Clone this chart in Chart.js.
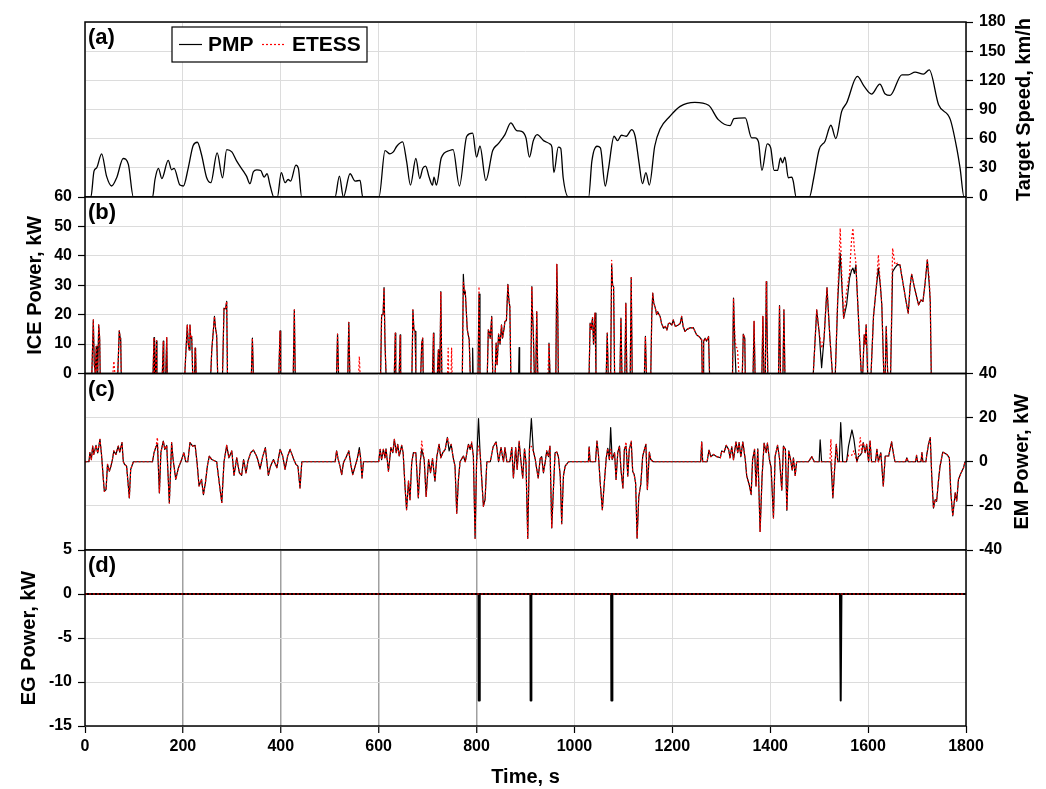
<!DOCTYPE html>
<html>
<head>
<meta charset="utf-8">
<title>PMP vs ETESS</title>
<script src="https://cdn.jsdelivr.net/npm/chart.js@4.4.1/dist/chart.umd.min.js"></script>
<style>
  body { margin: 0; background: #fff; }
  #wrap { position: relative; width: 1046px; height: 789px; }
  #wrap canvas { position: absolute; left: 0; top: 0; }
</style>
</head>
<body>
<div id="wrap">
  <canvas id="speedChart" width="1046" height="789"></canvas>
  <canvas id="iceChart" width="1046" height="789"></canvas>
  <canvas id="emChart" width="1046" height="789"></canvas>
  <canvas id="egChart" width="1046" height="789"></canvas>
</div>
<script>
// axis ranges: [min, max, step]
const timeAxis = [0, 1800, 200];
const speedAxis = [0, 180, 30];
const iceAxis = [0, 60, 10];
const emAxis = [-40, 40, 20];
const egAxis = [-15, 5, 5];

// (a) target speed, km/h
const speedTime = [
  0, 12, 18.4, 23.8, 34, 44, 54.5, 64.7, 78, 88.6,
  98.8, 138, 143, 150, 157, 170, 177, 182, 194, 201,
  211, 221, 229.5, 238, 248.6, 257, 270, 281, 289.5, 300,
  310, 323.5, 330, 337, 344, 351, 359, 366, 372, 378,
  386, 393, 401, 408.8, 415, 420, 431, 436, 442.7, 510.8,
  519.8, 528, 541.5, 552, 562, 567.4, 600.7, 613, 623, 630,
  637, 649, 657, 665, 676, 684, 690, 696, 703, 710,
  713, 718, 728, 745, 752, 765, 780, 792, 800, 807,
  819, 833, 844, 858, 870, 882, 892, 901, 908, 916,
  924, 937, 950, 954, 958, 967, 972, 977, 988, 1029,
  1035.6, 1046, 1053, 1063, 1069, 1081, 1088, 1096, 1106, 1117,
  1124, 1132, 1139, 1146, 1153, 1164, 1175, 1195, 1216, 1246,
  1274, 1294, 1318, 1326, 1349, 1362, 1369, 1376, 1383, 1394,
  1401, 1408, 1415, 1421, 1425, 1430, 1437, 1444, 1447, 1453,
  1480, 1489, 1500, 1512, 1524, 1534, 1546, 1556, 1578, 1592,
  1607, 1624, 1635, 1645, 1669, 1682, 1696, 1713, 1725, 1744,
  1768, 1781, 1788, 1796, 1800
];
const speedKmh = [
  0, 0, 26.6, 30, 44.4, 21.5, 11.3, 19.8, 39.6, 33.5,
  0, 0, 18, 29.4, 19, 37.6, 28, 29.4, 12.3, 11.3,
  30, 53, 56.3, 43.7, 19.8, 14.7, 45.4, 19.8, 48.8, 46.4,
  36.9, 26.6, 21.5, 13.7, 26, 28, 27.3, 20.5, 23.9, 12.3,
  0, 0, 25, 14.7, 18, 16.4, 32.8, 29.4, 0, 0,
  21.5, 0, 23.9, 16.4, 17, 0, 0, 47.8, 44.4, 46.4,
  52.2, 56.7, 36.9, 12.3, 39.6, 19, 29.4, 31.8, 20.5, 12.3,
  20.5, 12.3, 40.3, 47.8, 48.8, 11.3, 62.5, 65.6, 41, 52.2,
  17, 47.8, 54.6, 64.2, 76.2, 68.3, 67.6, 60.8, 41, 58,
  64.2, 58, 54.6, 51.2, 25, 51.2, 50, 19.8, 0, 0,
  36.9, 52.2, 50.5, 11.3, 27.3, 62.5, 58, 63.5, 62.5, 69.3,
  62.5, 35.2, 13.7, 25, 12.3, 52.2, 70, 83, 93.2, 97.3,
  94.3, 79.6, 73.4, 80.6, 81.3, 60.8, 60.8, 56.7, 27.3, 54.6,
  50.5, 27.3, 27.3, 40.3, 35.2, 41, 19.8, 20.5, 16.4, 0,
  0, 19.8, 48.8, 57.4, 73.8, 60.1, 88.1, 96.6, 124, 113.7,
  105.9, 116.1, 105.9, 104.5, 125.7, 125.7, 128.4, 126.4, 130.8, 95,
  79.6, 50.5, 29.4, 0, 0
];

// (b) ICE power, kW
const iceTime = [
  0, 14, 17, 19, 21, 23, 24.5, 26, 28, 30,
  31, 57, 59, 61, 67, 70, 72, 73, 74, 139,
  141, 142, 144, 146, 147, 158, 160, 161, 165, 167,
  168, 204, 206, 209, 211, 213, 214.5, 216, 218, 220,
  224, 225, 226, 227, 257, 259, 264.5, 267, 269, 271,
  281, 284, 287, 289.5, 291, 340, 342, 344, 396, 398.5,
  400, 425.5, 427.7, 429.5, 514, 516, 518, 537, 539, 541,
  559, 560.5, 562, 604, 606, 609, 611, 613, 615, 632,
  634, 635, 642, 644, 645, 668, 670, 672, 674.5, 676,
  686, 688, 690, 691, 710, 712, 713, 720, 722, 723,
  725, 727, 729, 741, 742, 743, 748, 749, 750, 771,
  773, 775, 777, 781, 785, 787, 791, 792, 793, 803,
  805, 807, 822, 824, 826, 828, 831, 833, 838, 840,
  842, 845, 848, 851, 853, 856, 858, 861, 864, 866,
  868, 870, 886, 887, 888, 911, 913, 914, 916, 918,
  921, 923, 925, 946, 948, 950, 962, 964, 966, 967,
  1030, 1032, 1034, 1037, 1039, 1042, 1044, 1065, 1067, 1069,
  1074, 1076, 1078, 1080, 1082, 1093, 1095, 1097, 1103, 1105,
  1107, 1114, 1116, 1118, 1143, 1145, 1147, 1156, 1158, 1160,
  1162, 1165, 1168, 1170, 1175, 1178, 1182, 1186, 1189, 1192,
  1195, 1199, 1202, 1206, 1212, 1216, 1219, 1222, 1226, 1230,
  1236, 1243, 1247, 1250, 1255, 1260, 1261, 1263, 1264, 1267,
  1270, 1274, 1276, 1323, 1325, 1328, 1330, 1333, 1336, 1343,
  1345, 1348, 1349, 1365, 1367, 1369, 1383, 1385, 1387, 1390,
  1392, 1393, 1395, 1417, 1419, 1421, 1426, 1428, 1430, 1488,
  1495, 1500, 1505, 1510, 1516, 1522, 1527, 1533, 1538, 1543,
  1547, 1550, 1556, 1562, 1566, 1569, 1572, 1575, 1580, 1586,
  1589, 1592, 1594, 1596, 1599, 1606, 1611, 1616, 1621, 1625,
  1628, 1632, 1635, 1637, 1640, 1646, 1650, 1655, 1660, 1665,
  1672, 1678, 1682, 1686, 1689, 1695, 1703, 1708, 1712, 1716,
  1721, 1725, 1727, 1729, 1800
];
const icePmp = [
  0, 0, 18.2, 3, 0, 9.2, 0, 0, 16.5, 12,
  0, 0, 0, 0, 0, 14.5, 12, 11, 0, 0,
  12.2, 0, 0, 11.1, 0, 0, 11, 0, 0, 12.2,
  0, 0, 7, 16.5, 10, 8, 16.5, 12, 12.6, 0,
  0, 8.6, 7, 0, 0, 8, 19.4, 15, 13, 0,
  0, 22.2, 22, 24.5, 0, 0, 12, 0, 0, 14.5,
  0, 0, 21.6, 0, 0, 13.4, 0, 0, 17.4, 0,
  0, 0, 0, 0, 19.9, 20, 29.2, 10, 0, 0,
  13.7, 0, 0, 13.1, 0, 0, 21.6, 15, 14.3, 0,
  0, 10.3, 12, 0, 0, 13.7, 0, 0, 8, 0,
  0, 27.8, 0, 0, 0, 0, 0, 0, 0, 0,
  33.7, 27, 27.8, 15, 11.4, 0, 0, 8.6, 0, 0,
  27, 0, 0, 14.8, 14, 12, 19.4, 0, 0, 10.3,
  3, 13.4, 10, 16.5, 12, 15, 17.7, 18, 30.3, 25,
  22.8, 0, 0, 8.8, 0, 0, 29.5, 22, 13.7, 0,
  0, 21, 0, 0, 10.3, 0, 0, 37.1, 20, 0,
  0, 17.1, 15, 19, 10, 20.5, 0, 0, 13.7, 0,
  0, 36.9, 30, 29.5, 0, 0, 18.8, 0, 0, 23.9,
  0, 0, 32.6, 0, 0, 12.6, 0, 0, 20, 27.3,
  24, 22.4, 20, 21, 19.4, 17, 15.4, 16, 14.8, 17,
  17.1, 16.5, 18.2, 16, 16.5, 17, 19.4, 16, 14.3, 15,
  15.5, 15.6, 14, 13.1, 12.5, 11.4, 0, 0, 11, 12,
  11, 12.6, 0, 0, 25.6, 8, 0, 0, 0, 0,
  13.4, 12, 0, 0, 17.7, 0, 0, 19.4, 0, 0,
  31.2, 22, 0, 0, 23.1, 0, 0, 21.6, 0, 0,
  21.6, 14, 2, 12, 29.2, 12, 0, 0, 25, 40.9,
  28, 18.8, 23.3, 32.4, 35, 35.8, 34, 36.9, 20, 0,
  0, 13.1, 10, 16.5, 0, 0, 19.4, 28, 35.8, 30,
  23.3, 0, 0, 16, 0, 0, 34.6, 36, 37, 36.9,
  30, 24, 20.5, 30, 33.7, 29, 23.3, 25, 24.5, 30,
  38.6, 30, 24.5, 0, 0
];
const iceEtess = [
  0, 0, 18.2, 3, 0, 9.2, 0, 0, 16.5, 12,
  0, 0, 4.2, 0, 0, 14.5, 12, 11, 0, 0,
  12.2, 0, 0, 11.1, 0, 0, 11, 0, 0, 12.2,
  0, 0, 7, 16.5, 10, 8, 16.5, 12, 12.6, 0,
  0, 8.6, 7, 0, 0, 8, 19.4, 15, 13, 0,
  0, 22.2, 22, 24.5, 0, 0, 12, 0, 0, 14.5,
  0, 0, 21.6, 0, 0, 13.4, 0, 0, 17.4, 0,
  0, 5.8, 0, 0, 19.9, 20, 29.2, 10, 0, 0,
  13.7, 0, 0, 13.1, 0, 0, 21.6, 15, 14.3, 0,
  0, 10.3, 12, 0, 0, 13.7, 0, 0, 8, 0,
  0, 27.8, 0, 0, 8.6, 0, 0, 8.6, 0, 0,
  31, 29, 27.8, 15, 11.4, 0, 0, 0, 0, 0,
  29.5, 0, 0, 14.8, 14, 12, 19.4, 0, 0, 10.3,
  3, 13.4, 10, 16.5, 12, 15, 17.7, 18, 30.3, 25,
  22.8, 0, 0, 0, 0, 0, 29.5, 22, 13.7, 0,
  0, 21, 0, 0, 10.3, 0, 0, 37.1, 20, 0,
  0, 17.1, 15, 19, 10, 20.5, 0, 0, 13.7, 0,
  0, 38.5, 30, 29.5, 0, 0, 18.8, 0, 0, 23.9,
  0, 0, 32.6, 0, 0, 12.6, 0, 0, 20, 27.3,
  24, 22.4, 20, 21, 19.4, 17, 15.4, 16, 14.8, 17,
  17.1, 16.5, 18.2, 16, 16.5, 17, 19.4, 16, 14.3, 15,
  15.5, 15.6, 14, 13.1, 12.5, 11.4, 0, 0, 11, 12,
  11, 12.6, 0, 0, 25.6, 12, 9, 8.6, 0, 0,
  13.4, 12, 0, 0, 17.7, 0, 0, 19.4, 0, 0,
  31.2, 22, 0, 0, 23.1, 0, 0, 21.6, 0, 0,
  21.6, 14, 8.6, 12, 29.2, 12, 0, 0, 27, 49.4,
  30, 18.8, 28, 34, 45, 49.4, 42, 37.5, 20, 0,
  0, 13.1, 10, 16.5, 0, 0, 19.4, 28, 40.3, 30,
  23.3, 0, 0, 16, 0, 0, 42.6, 37, 37.5, 36.9,
  30, 24, 20.5, 30, 33.7, 29, 23.3, 25, 24.5, 30,
  39, 32, 24.5, 0, 0
];

// (c) EM power, kW
const emTime = [
  0, 8, 10, 13, 15.7, 18, 22.5, 26, 30.6, 34,
  37.5, 39.5, 43, 46, 49.7, 53, 56, 59, 63, 68,
  71, 75.6, 78.3, 81, 85, 90.6, 93.3, 98.8, 138, 141,
  145, 148, 152, 155, 160, 163, 167, 172.3, 177, 180,
  185.5, 191, 197.5, 202, 206, 210, 214.5, 220, 225, 229,
  233, 238, 242, 246, 250, 254, 259, 269, 276, 279.5,
  284, 289.5, 294, 300, 304.5, 310, 315.4, 320, 324, 329,
  333, 338.5, 344, 349, 353, 357.6, 363, 368.5, 374.6, 379,
  385, 392, 398.5, 404, 408.7, 414, 419, 426, 431, 435,
  439.3, 443, 511, 514, 517, 521, 524.5, 528, 533, 539,
  543, 547, 552, 556, 560.5, 563, 566, 569, 600, 603,
  606, 609.6, 613, 615, 620, 625, 629, 632, 636, 639,
  642, 647, 650, 654, 657, 661, 664, 667.5, 671, 676,
  681, 685, 688, 693, 697, 702, 706, 710, 715, 719,
  723.4, 727, 731, 736, 740.4, 744, 748, 753, 756, 759.5,
  763, 766.3, 773, 777, 783.3, 787, 790, 793.5, 797, 800,
  804, 807, 810.6, 814, 817.4, 821, 828, 834, 840, 845,
  850, 855, 858, 862, 868, 872, 875.3, 880, 883, 887,
  890, 894.3, 898, 901, 904.6, 908, 912, 916, 920, 923,
  926, 930, 933, 936.6, 940, 943.4, 947, 950, 953.6, 957,
  960.4, 964, 967.2, 971, 974, 977.5, 981, 988, 1028.5, 1030,
  1032, 1043, 1046, 1049, 1052.4, 1057, 1061, 1065, 1068, 1071.4,
  1074, 1077, 1082, 1085, 1088.5, 1092, 1095, 1099, 1102, 1105.5,
  1109, 1112, 1116, 1119, 1122, 1125, 1128, 1131.5, 1135.5, 1139.5,
  1143, 1146, 1149, 1153, 1156, 1161, 1258, 1260, 1262, 1271,
  1275, 1278.5, 1284, 1291, 1298, 1301, 1306, 1310, 1315, 1318,
  1321.4, 1325, 1330, 1333.7, 1336.4, 1340, 1344, 1349, 1352, 1357,
  1361, 1364, 1368, 1371, 1374.6, 1379.3, 1383.4, 1387.5, 1391.6, 1394.3,
  1398.4, 1401.8, 1406.6, 1410, 1415, 1418.8, 1423.6, 1427, 1431, 1434,
  1438, 1442, 1445, 1447.4, 1451, 1454, 1478, 1485, 1490, 1500,
  1502, 1505, 1522, 1524, 1528, 1531.5, 1535, 1538, 1541, 1544,
  1548, 1556, 1560, 1567, 1571, 1577, 1580, 1584, 1587, 1590,
  1594, 1597, 1601, 1604, 1607, 1615, 1618, 1621, 1626, 1631,
  1635, 1642, 1648, 1652, 1655, 1677, 1679, 1682, 1697, 1699,
  1701, 1708, 1710, 1712, 1718, 1720, 1723.4, 1727, 1730, 1733.5,
  1737, 1740, 1744, 1747, 1752.6, 1761, 1766, 1769, 1773, 1778,
  1781, 1784.6, 1790, 1795, 1798, 1800
];
const emPmp = [
  0, 0, 4.1, 1, 7.1, 3.3, 7.4, 4, 10.2, 2.6,
  -8, -13.4, -12.6, -1.2, -4.3, -2, 1, 4.9, 3.3, 7.1,
  4.4, 8.7, 0, -1.2, -2, -16.4, -3.5, 0, 0, 4.1,
  6.8, 8, -14.1, 4.1, 9.4, 5.6, 7.4, -18.7, 8.7, 1,
  -8, -2.7, 1, 4.1, 0, 0, 8.7, 7.1, 7.4, -0.5,
  -11, -8, -14.9, -9.6, -2, 2.6, 1, 0, -12.6, -18.4,
  0, 7.4, 1.8, 4.9, -6.2, 1.8, -5, -6.2, 1, -5,
  0.3, 4.1, 5.3, 3.3, 1, -3.2, 2.3, 6.4, -6.2, -2,
  1, -2.7, 5.6, 2.6, -3.5, 2.6, 5.6, 1.4, -1.2, -2,
  -11.9, 0, 0, 4.9, 1.4, -2, -5.8, -0.5, 1.8, 4.9,
  -1.2, -5.8, -2, 1, 6.4, 1.8, -7.3, 0, 0, 5.6,
  1, 5.6, 1.8, 5.9, -4.3, 6.4, 4.1, 10.2, 4.1, 7.9,
  2.6, 7.4, 4.1, -11.9, -21.7, -8.8, -17.2, -0.5, 4.1, 4.1,
  -16.4, 0, 5.6, 1, -15.7, 1, -5, 1.4, -8.8, 2.6,
  7.9, 1.8, 4.1, 5.6, 11, 4.9, 7.9, 1, -2, -23.3,
  -8, 0, 2.6, 0, 7.9, 5.6, 8.4, 2.6, -34.7, -0.5,
  19.6, 4.9, -8, -20.2, -17.2, 0, 0, 6.8, 9, 0,
  6.4, 0, 6.4, 0, 0, 6.4, -7.3, 6.4, -3.5, 9,
  1.8, -7.3, 5.9, -0.5, -34.7, 5.6, 19.6, 4.9, 1, -3.5,
  -7.3, 1.4, 2.3, -5, -0.5, 4.9, 2.3, 7.1, -30, -12.6,
  4.1, 4.4, 2.3, -6.5, -28.1, -6.5, -2, 0, 0, 6.8,
  0, 0, 9.4, 3.3, -8.8, -21.7, -9.6, 1.8, 6.1, 1,
  15.5, 1, 4.1, -8, 4.1, 7.1, -3.5, -11.9, 5.6, 7.1,
  -6.5, 5.6, 9, -4.3, -5.8, -9.6, -34.7, -15.7, -10.3, 2.6,
  5.6, 7.9, -12.6, 4.4, 1, 0, 0, 9, 0, 0,
  5.3, 2.3, 3.3, 2.3, 1.8, 4.9, 4.4, 7.4, 5.6, 1.8,
  6.8, 1, 9, 4.1, 8.7, 2.3, 9, 1, -6.5, -10.3,
  -14.9, 1, 5.6, -11, 5.9, -31.6, -6.5, 8.4, 4.1, 8.4,
  1, -2.7, -25.5, 2.6, 7.4, 1.8, -12.9, 7.1, 5.6, -22,
  4.9, 0.3, -3.8, 1.8, -6.2, 0, 0, 2.3, 0, 0,
  9.9, 0, 0, 0, -16.4, -3.5, 7.9, 0, 0, 17.8,
  0, 0, 7.1, 14.4, 10.2, 0, 2.3, 3, 4.1, 8.7,
  4.1, 7.9, 0, 9.4, 0, 0, 5.6, 0, 4.1, -11,
  2.6, 2.6, 9, 3.3, 0, 0, 1.8, 0, 0, 2.9,
  0, 0, 4.1, 0, 0, 3.3, 7.9, 10.9, -6.5, -21,
  -17.2, -17.9, -8, -2, 4.4, 3.3, 1.8, -14.1, -24.5, -14.1,
  -17.9, -8, -5, -2.7, 0, 0
];
const emEtess = [
  0, 0, 4.1, 1, 7.1, 3.3, 7.4, 4, 10.2, 2.6,
  -8, -13.4, -12.6, -1.2, -4.3, -2, 1, 4.9, 3.3, 7.1,
  4.4, 8.7, 0, -1.2, -2, -16.4, -3.5, 0, 0, 4.1,
  6.8, 11, -14.1, 4.1, 9.4, 5.6, 7.4, -18.7, 8.7, 1,
  -8, -2.7, 1, 4.1, 0, 0, 8.7, 7.1, 7.4, -0.5,
  -11, -8, -14.9, -9.6, -2, 2.6, 1, 0, -12.6, -18.4,
  0, 7.4, 1.8, 4.9, -6.2, 1.8, -5, -6.2, 1, -5,
  0.3, 4.1, 5.3, 3.3, 1, -3.2, 2.3, 6.4, -6.2, -2,
  1, -2.7, 5.6, 2.6, -3.5, 2.6, 5.6, 1.4, -1.2, -2,
  -11.9, 0, 0, 4.9, 1.4, -2, -5.8, -0.5, 1.8, 4.9,
  -1.2, -5.8, -2, 1, 5, 1.8, -7.3, 0, 0, 5.6,
  1, 5.6, 1.8, 5.9, -4.3, 6.4, 4.1, 10.2, 4.1, 7.9,
  2.6, 7.4, 4.1, -11.9, -21.7, -8.8, -17.2, -0.5, 4.1, 4.1,
  -16.4, 0, 9.4, 1, -15.7, 1, -5, 1.4, -8.8, 2.6,
  7.9, 1.8, 4.1, 5.6, 11, 8, 7.9, 1, -2, -23.3,
  -8, 0, 2.6, 0, 7.9, 5.6, 9, 2.6, -34.7, -0.5,
  7.1, 4.9, -8, -20.2, -17.2, 0, 0, 6.8, 9, 0,
  6.4, 0, 6.4, 0, 0, 6.4, -7.3, 6.4, -3.5, 9.4,
  1.8, -7.3, 5.9, -0.5, -34.7, 5.6, 7, 4.9, 1, -3.5,
  -7.3, 1.4, 2.3, -5, -0.5, 4.9, 2.3, 7.1, -30, -12.6,
  4.1, 4.4, 2.3, -6.5, -28.1, -6.5, -2, 0, 0, 6.8,
  0, 0, 9.4, 3.3, -8.8, -21.7, -9.6, 1.8, 6.1, 1,
  5.6, 1, 4.1, -8, 4.1, 7.1, -3.5, -11.9, 5.6, 9,
  -6.5, 5.6, 9.4, -4.3, -5.8, -9.6, -34.7, -15.7, -10.3, 2.6,
  5.6, 7.9, -12.6, 4.4, 1, 0, 0, 9, 0, 0,
  5.3, 2.3, 3.3, 2.3, 1.8, 4.9, 4.4, 7.4, 5.6, 1.8,
  6.8, 1, 9, 4.1, 8.7, 2.3, 9, 1, -6.5, -10.3,
  -14.9, 1, 5.6, -11, 5.9, -31.6, -6.5, 8.4, 4.1, 8.4,
  1, -2.7, -25.5, 2.6, 7.4, 1.8, -12.9, 7.1, 5.6, -22,
  4.9, 0.3, -3.8, 1.8, -6.2, 0, 0, 2.3, 0, 0,
  0, 0, 0, 10.2, -16.4, -3.5, 7.9, 0, 0, 0,
  0, 0, 3, 3, 5, 0, 2.3, 10.9, 4.1, 8.7,
  4.1, 7.9, 0, 9.4, 0, 0, 5.6, 0, 4.1, -11,
  2.6, 2.6, 9, 3.3, 0, 0, 1.8, 0, 0, 2.9,
  0, 0, 4.1, 0, 0, 3.3, 7.9, 10.9, -6.5, -21,
  -17.2, -17.9, -8, -2, 4.4, 3.3, 1.8, -14.1, -24.5, -14.1,
  -17.9, -8, -5, -2.7, 0, 0
];

// (d) EG power, kW
const egTime = [0, 804, 804.5, 806, 806.5, 910, 910.5, 911.5, 912, 1075, 1075.5, 1077, 1077.5, 1542.5, 1544, 1545.5, 1800];
const egPmp = [0, 0, -12.1, -12.1, 0, 0, -12.1, -12.1, 0, 0, -12.1, -12.1, 0, 0, -12.1, 0, 0];
const egEtess = [0, 0, 0, 0, 0, 0, 0, 0, 0, 0, 0, 0, 0, 0, 0, 0, 0];

[[speedTime, speedKmh], [iceTime, icePmp], [iceTime, iceEtess], [emTime, emPmp],
 [emTime, emEtess], [egTime, egPmp], [egTime, egEtess]].forEach(([a, b], i) => {
  if (a.length !== b.length) throw new Error('length mismatch in series ' + i + ': ' + a.length + ' vs ' + b.length);
});

// layout
const PAGE_W = 1046, PAGE_H = 789;
const PLOT_L = 85, PLOT_R = 966;
const panelEdges = [22, 197, 373.5, 550, 726];
const FONT = '"Liberation Sans", Arial, sans-serif';
const TICK_FONT = { family: FONT, size: 16, weight: 'bold' };
const GRID = '#dcdcdc';
const RED = '#ff0000';

const pts = (xs, ys) => xs.map((x, i) => ({ x: x, y: ys[i] }));

function decor(tag, titles, extra) {
  return {
    id: 'decor',
    afterDatasetsDraw(chart) {
      const ctx = chart.ctx, a = chart.chartArea;
      ctx.save();
      ctx.strokeStyle = '#000';
      ctx.lineWidth = 1.5;
      ctx.strokeRect(a.left, a.top, a.right - a.left, a.bottom - a.top);
      ctx.fillStyle = '#000';
      ctx.font = 'bold 22px ' + FONT;
      ctx.textAlign = 'left';
      ctx.textBaseline = 'top';
      ctx.fillText(tag, a.left + 3, a.top + 5);
      ctx.font = 'bold 20px ' + FONT;
      ctx.textAlign = 'center';
      ctx.textBaseline = 'middle';
      titles.forEach(t => {
        ctx.save();
        ctx.translate(t.x, t.y);
        ctx.rotate(t.rot || 0);
        ctx.fillText(t.text, 0, 0);
        ctx.restore();
      });
      if (extra) extra(ctx);
      ctx.restore();
    }
  };
}

function drawKey(ctx) {
  ctx.fillStyle = '#fff';
  ctx.fillRect(172, 27, 195, 35);
  ctx.strokeStyle = '#000';
  ctx.lineWidth = 1.2;
  ctx.strokeRect(172, 27, 195, 35);
  ctx.beginPath();
  ctx.moveTo(179, 44.5); ctx.lineTo(202, 44.5);
  ctx.stroke();
  ctx.strokeStyle = RED;
  ctx.setLineDash([2, 2]);
  ctx.beginPath();
  ctx.moveTo(262, 44.5); ctx.lineTo(285, 44.5);
  ctx.stroke();
  ctx.setLineDash([]);
  ctx.fillStyle = '#000';
  ctx.font = 'bold 21px ' + FONT;
  ctx.textAlign = 'left';
  ctx.textBaseline = 'middle';
  ctx.fillText('PMP', 208, 45.5);
  ctx.fillText('ETESS', 292, 45.5);
}

function panelOptions(cfg) {
  const top = panelEdges[cfg.row], bottom = panelEdges[cfg.row + 1];
  const onLeft = cfg.side === 'left';
  const showTime = !!cfg.timeAxis;
  return {
    responsive: false,
    animation: false,
    devicePixelRatio: 1,
    events: [],
    layout: {
      padding: {
        left: onLeft ? 0 : PLOT_L,
        right: onLeft ? PAGE_W - PLOT_R : 0,
        top: top,
        bottom: showTime ? 0 : PAGE_H - bottom
      }
    },
    elements: { point: { radius: 0 }, line: { tension: 0, borderJoinStyle: 'round' } },
    scales: {
      x: {
        type: 'linear',
        min: timeAxis[0], max: timeAxis[1],
        afterFit: s => { s.height = showTime ? PAGE_H - bottom : 0; },
        border: { display: false },
        grid: {
          color: cfg.xGridColor || GRID,
          lineWidth: cfg.xGridWidth || 1,
          drawTicks: showTime, tickLength: 7, tickColor: '#000', tickWidth: 1.2
        },
        ticks: {
          display: showTime, stepSize: timeAxis[2], color: '#000', font: TICK_FONT,
          padding: 4, maxRotation: 0, autoSkip: false,
          callback: v => String(v)
        }
      },
      y: {
        type: 'linear',
        position: cfg.side,
        min: cfg.axis[0], max: cfg.axis[1],
        afterFit: s => { s.width = onLeft ? PLOT_L : PAGE_W - PLOT_R; },
        border: { display: false },
        grid: { color: GRID, tickLength: 7, tickColor: '#000', tickWidth: 1.2 },
        ticks: { stepSize: cfg.axis[2], color: '#000', font: TICK_FONT, padding: 6, callback: v => String(v) }
      }
    },
    plugins: { legend: { display: false }, tooltip: { enabled: false } }
  };
}

const midY = r => (panelEdges[r] + panelEdges[r + 1]) / 2;
const UP = -Math.PI / 2;

// (a)
new Chart(document.getElementById('speedChart'), {
  type: 'line',
  data: { datasets: [{
    data: pts(speedTime, speedKmh),
    borderColor: '#000', borderWidth: 1.3, cubicInterpolationMode: 'monotone'
  }] },
  options: panelOptions({ row: 0, side: 'right', axis: speedAxis }),
  plugins: [decor('(a)', [{ text: 'Target Speed, km/h', x: 1024, y: midY(0), rot: UP }], drawKey)]
});

// (b)
new Chart(document.getElementById('iceChart'), {
  type: 'line',
  data: { datasets: [
    { label: 'ETESS', data: pts(iceTime, iceEtess), borderColor: RED, borderWidth: 1.2, borderDash: [2, 2], order: 1 },
    { label: 'PMP', data: pts(iceTime, icePmp), borderColor: '#000', borderWidth: 1.2, order: 2 }
  ] },
  options: panelOptions({ row: 1, side: 'left', axis: iceAxis }),
  plugins: [decor('(b)', [{ text: 'ICE Power, kW', x: 35, y: midY(1), rot: UP }])]
});

// (c)
new Chart(document.getElementById('emChart'), {
  type: 'line',
  data: { datasets: [
    { label: 'ETESS', data: pts(emTime, emEtess), borderColor: RED, borderWidth: 1.2, borderDash: [2, 2], order: 1 },
    { label: 'PMP', data: pts(emTime, emPmp), borderColor: '#000', borderWidth: 1.2, order: 2 }
  ] },
  options: panelOptions({ row: 2, side: 'right', axis: emAxis }),
  plugins: [decor('(c)', [{ text: 'EM Power, kW', x: 1022, y: midY(2), rot: UP }])]
});

// (d)
new Chart(document.getElementById('egChart'), {
  type: 'line',
  data: { datasets: [
    { label: 'ETESS', data: pts(egTime, egEtess), borderColor: RED, borderWidth: 1.2, borderDash: [2, 2], order: 1 },
    { label: 'PMP', data: pts(egTime, egPmp), borderColor: '#000', borderWidth: 2, order: 2 }
  ] },
  options: panelOptions({
    row: 3, side: 'left', axis: egAxis, timeAxis: true,
    xGridColor: c => (c.tick && c.tick.value > 0 && c.tick.value <= 800) ? '#a0a0a0' : GRID,
    xGridWidth: c => (c.tick && c.tick.value > 0 && c.tick.value <= 800) ? 1.5 : 1
  }),
  plugins: [decor('(d)', [
    { text: 'EG Power, kW', x: 29, y: midY(3), rot: UP },
    { text: 'Time, s', x: (PLOT_L + PLOT_R) / 2, y: 777, rot: 0 }
  ])]
});
</script>
</body>
</html>
